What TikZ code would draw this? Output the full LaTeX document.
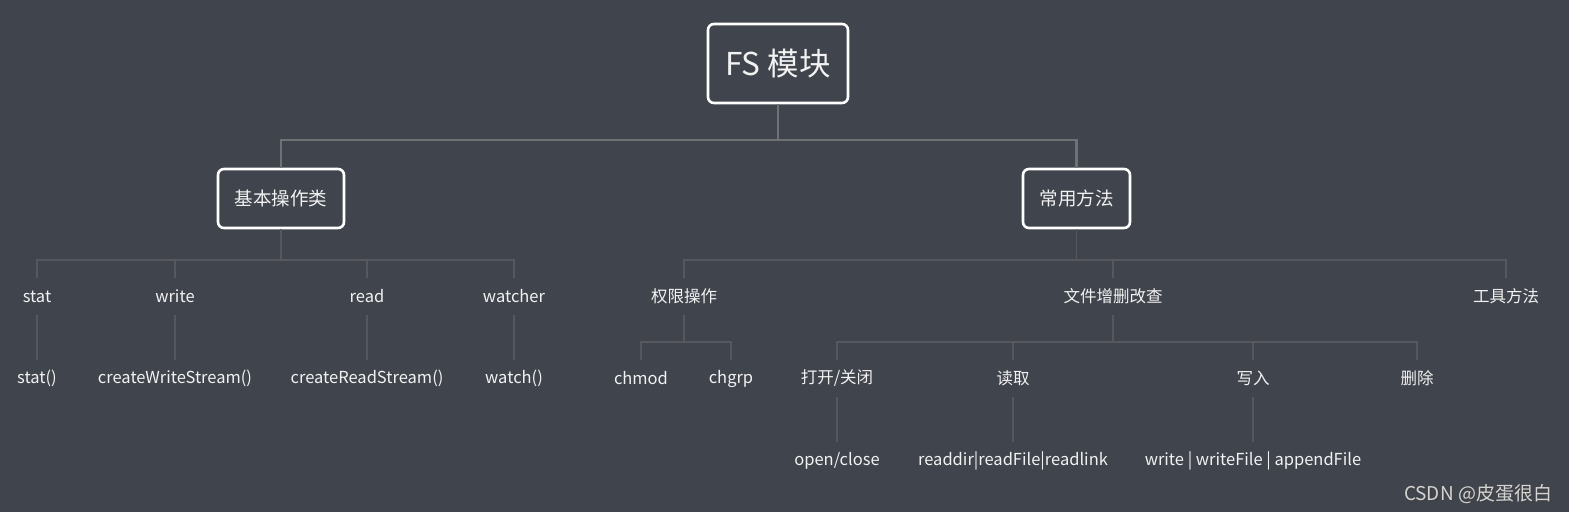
\documentclass[tikz,border=0pt]{standalone}
\usepackage{fontspec}
\setmainfont{Noto Sans CJK SC}
\definecolor{bg}{HTML}{40444C}
\definecolor{topline}{HTML}{707174}
\definecolor{lowline}{HTML}{56585D}
\definecolor{txt}{HTML}{F2F2F2}
\definecolor{wm}{HTML}{D4D4D4}
\begin{document}
\begin{tikzpicture}[x=1pt,y=-1pt,
  box/.style={draw=white, line width=2.6pt, rounded corners=6pt, fill=bg, text=txt, inner sep=0pt},
  lab/.style={text=txt, font=\fontsize{16.5}{18}\selectfont, inner sep=0pt, minimum height=36pt, yshift=-1.5pt},
  topc/.style={draw=topline, line width=2.3pt},
  lowc/.style={draw=lowline, line width=1.2pt}]
\fill[bg] (0,0) rectangle (1569,512);
\useasboundingbox (0,0) rectangle (1569,512);
% level 1 and 2
\node[box, minimum width=140pt, minimum height=79pt, font=\fontsize{31.5}{34}\selectfont] (root) at (778,63.5) {FS 模块};
\node[box, minimum width=126pt, minimum height=59pt, font=\fontsize{18.5}{20}\selectfont] (b1) at (281,198.5) {基本操作类};
\node[box, minimum width=107pt, minimum height=59pt, font=\fontsize{18.5}{20}\selectfont] (b2) at (1076.5,198.5) {常用方法};
\draw[topc] (b1.north) |- (root.south |- 0,140) -- (root.south);
\draw[topc] (b2.north) |- (root.south |- 0,140);
% level 3
\node[lab] (stat) at (37,295) {stat};
\node[lab] (write) at (175,295) {write};
\node[lab] (read) at (367,295) {read};
\node[lab] (watcher) at (514,295) {watcher};
\node[lab] (perm) at (684,295) {权限操作};
\node[lab] (crud) at (1113,295) {文件增删改查};
\node[lab] (tool) at (1506,295) {工具方法};
% level 4
\node[lab] (statf) at (37,377) {stat()};
\node[lab] (cws) at (175,377) {createWriteStream()};
\node[lab] (crs) at (367,377) {createReadStream()};
\node[lab] (watch) at (514,377) {watch()};
\node[lab] (chmod) at (641,377) {chmod};
\node[lab] (chgrp) at (731,377) {chgrp};
\node[lab] (open) at (837,377) {打开/关闭};
\node[lab] (rd) at (1013,377) {读取};
\node[lab] (wr) at (1253,377) {写入};
\node[lab] (del) at (1417,377) {删除};
% level 5
\node[lab] (oc) at (837,459) {open/close};
\node[lab] (rdf) at (1013,459) {readdir|readFile|readlink};
\node[lab] (wrf) at (1253,459) {write | writeFile | appendFile};
% connectors: 基本操作类
\draw[lowc] (b1.south) -- (b1.south |- 0,260);
\draw[lowc] (stat.north) -- (stat.north |- 0,260) -- (watcher.north |- 0,260) -- (watcher.north);
\draw[lowc] (write.north) -- (write.north |- 0,260);
\draw[lowc] (read.north) -- (read.north |- 0,260);
\draw[lowc] (stat.south) -- (statf.north);
\draw[lowc] (write.south) -- (cws.north);
\draw[lowc] (read.south) -- (crs.north);
\draw[lowc] (watcher.south) -- (watch.north);
% connectors: 常用方法
\draw[lowc] (b2.south) -- (b2.south |- 0,260);
\draw[lowc] (perm.north) -- (perm.north |- 0,260) -- (tool.north |- 0,260) -- (tool.north);
\draw[lowc] (crud.north) -- (crud.north |- 0,260);
% 权限操作
\draw[lowc] (perm.south) -- (perm.south |- 0,342);
\draw[lowc] (chmod.north) -- (chmod.north |- 0,342) -- (chgrp.north |- 0,342) -- (chgrp.north);
% 文件增删改查
\draw[lowc] (crud.south) -- (crud.south |- 0,342);
\draw[lowc] (open.north) -- (open.north |- 0,342) -- (del.north |- 0,342) -- (del.north);
\draw[lowc] (rd.north) -- (rd.north |- 0,342);
\draw[lowc] (wr.north) -- (wr.north |- 0,342);
\draw[lowc] (open.south) -- (oc.north);
\draw[lowc] (rd.south) -- (rdf.north);
\draw[lowc] (wr.south) -- (wrf.north);
% watermark
\node[text=black!75, font=\fontsize{19}{21}\selectfont, inner sep=0pt] at (1479.2,495.2) {CSDN @皮蛋很白};
\node[text=wm, font=\fontsize{19}{21}\selectfont, inner sep=0pt] (wmk) at (1478,494) {CSDN @皮蛋很白};
\end{tikzpicture}
\end{document}
